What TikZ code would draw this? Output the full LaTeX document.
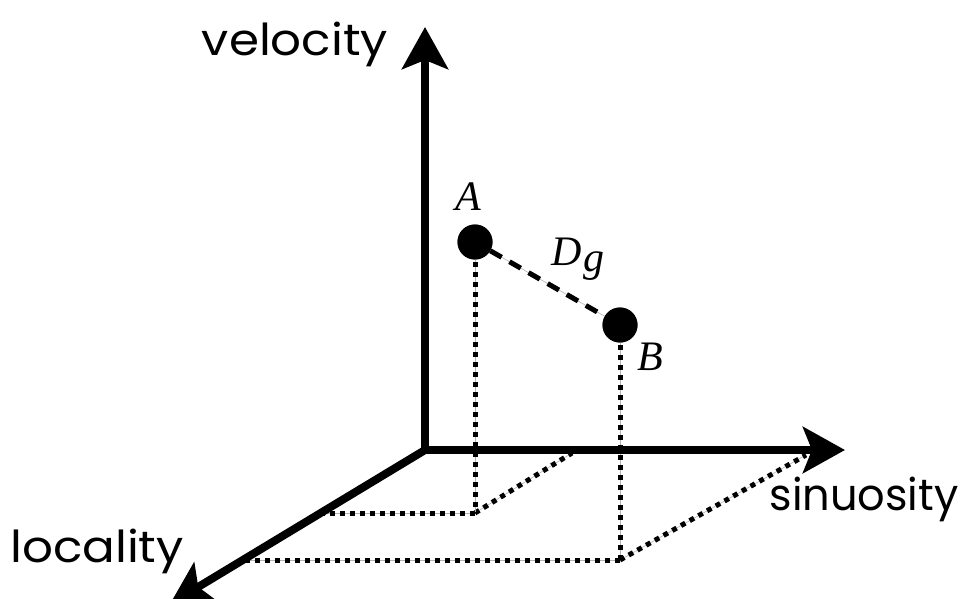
\documentclass[tikz,border=0pt]{standalone}
\usepackage{fontspec}
\setmainfont{Liberation Serif}
\newfontfamily\axisfont{Poppins}
\usetikzlibrary{arrows.meta}
\newcommand{\axtext}[2][1.1]{\scalebox{#1}[1]{#2}}
\begin{document}
\begin{tikzpicture}[x=1pt,y=-1pt,
  axis/.style={line width=8pt,-{Stealth[length=42pt,width=46pt,inset=9pt]}},
  dotline/.style={line width=5pt,dash pattern=on 5pt off 5pt},
  guide/.style={line width=0.6pt,gray!60},
  dot/.style={circle,fill=black,minimum size=35pt,inner sep=0pt},
  axlabel/.style={anchor=base,inner sep=0pt,font=\axisfont\fontsize{44}{44}\selectfont},
  ptlabel/.style={inner sep=0pt,font=\itshape\fontsize{42}{42}\selectfont}]
\useasboundingbox (0,0) rectangle (964,599);
\coordinate (O) at (425,450);
\coordinate (vtip) at (425,27);
\coordinate (stip) at (845,450);
\coordinate (ltip) at (170,604);
\coordinate (fa) at (475,513);
\coordinate (fb) at (620,560);
\coordinate (la) at (322,513);
\coordinate (lb) at (240,560);
\coordinate (sa) at (572,453);
\coordinate (sb) at (806,455);
% dotted guides
\foreach \p/\q in {fa/la,fa/sa,fb/lb,fb/sb}{
  \draw[guide] (\p) -- (\q);
  \draw[dotline] (\p) -- (\q);}
\node[dot] (A) at (475,242) {};
\node[dot] (B) at (620,325) {};
\draw[guide] (A.center) -- (fa);
\draw[dotline] (A.center) -- (fa);
\draw[guide] (B.center) -- (fb);
\draw[dotline] (B.center) -- (fb);
% distance line
\draw[guide] (A) -- (B);
\draw[line width=5pt,dash pattern=on 13pt off 9pt] (A) -- (B);
% axes
\draw[axis] (O) -- (vtip);
\draw[axis] ([xshift=-4pt]O) -- (stip);
\draw[axis] (O) -- (ltip);
\node[dot] at (A) {};
\node[dot] at (B) {};
% labels
\node[axlabel] (vl) at (295,56) {\axtext{velocity}};
\node[axlabel] (sl) at (864,510) {\axtext[0.98]{sinuosity}};
\node[axlabel] (ll) at (97,562) {\axtext{locality}};
\node[ptlabel] (Al) at (468,197) {A};
\node[ptlabel] (Bl) at (650,357) {B};
\node[ptlabel] (Dl) at (578,259) {D\kern1pt\raisebox{-6pt}{g}};
\end{tikzpicture}
\end{document}
